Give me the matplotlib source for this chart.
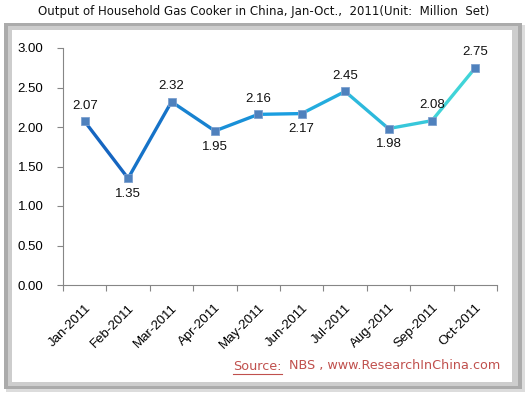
import matplotlib
matplotlib.use("Agg")
import matplotlib.pyplot as plt
import numpy as np
from matplotlib.patches import Rectangle
from matplotlib.lines import Line2D
from matplotlib.colors import LinearSegmentedColormap

months = ["Jan-2011", "Feb-2011", "Mar-2011", "Apr-2011", "May-2011",
          "Jun-2011", "Jul-2011", "Aug-2011", "Sep-2011", "Oct-2011"]
output = [2.07, 1.35, 2.32, 1.95, 2.16, 2.17, 2.45, 1.98, 2.08, 2.75]
label_above = [True, False, True, False, True, False, True, False, True, True]

TITLE = "Output of Household Gas Cooker in China, Jan-Oct.,  2011(Unit:  Million  Set)"
W, H = 528, 395

plt.rcParams.update({"font.family": ["Liberation Sans", "DejaVu Sans"]})
fig = plt.figure(figsize=(W / 100, H / 100), dpi=100)
fig.patch.set_facecolor("white")

# framed panel with grey bevel / shadow
def frect(x0, y0, x1, y1, color, z):
    fig.add_artist(Rectangle((x0 / W, 1 - y1 / H), (x1 - x0) / W, (y1 - y0) / H,
                             transform=fig.transFigure, facecolor=color,
                             edgecolor="none", zorder=z))

frect(6, 25, 525, 392, "#dcdcdc", 0)
frect(4, 23, 522, 389, "#ababab", 0.1)
frect(8, 26, 518, 386, "#cdcdcd", 0.2)
frect(12, 30, 512, 382, "white", 0.3)

fig.text(0.5, 1 - 12 / H, TITLE, ha="center", va="center", fontsize=8.5,
         family="DejaVu Sans", color="#111111")

ax = fig.add_axes([63 / W, 1 - 285 / H, 434 / W, 237 / H])
ax.set_facecolor("none")
ax.set_zorder(2)
n = len(output)
x = np.arange(n)
ax.set_xlim(-0.5, n - 0.5)
ax.set_ylim(0, 3.0)

for sp in ["top", "right"]:
    ax.spines[sp].set_visible(False)
for sp in ["left", "bottom"]:
    ax.spines[sp].set_color("#868686")
    ax.spines[sp].set_linewidth(0.8)

ax.set_yticks(np.arange(0, 3.01, 0.5))
ax.set_yticklabels([f"{v:.2f}" for v in np.arange(0, 3.01, 0.5)], fontsize=9.5)
ax.tick_params(axis="y", length=4, width=0.8, color="#868686", pad=10)

# category boundaries as ticks, labels at centres
ax.set_xticks(np.arange(-0.5, n, 1.0))
ax.set_xticklabels([])
ax.tick_params(axis="x", which="major", length=4, width=0.8, color="#868686")
ax.set_xticks(x, minor=True)
ax.set_xticklabels(months, minor=True, rotation=45, ha="right",
                   rotation_mode="anchor", fontsize=9.5)
ax.tick_params(axis="x", which="minor", length=0, pad=12)

# gradient line: dark blue -> sky blue -> cyan
cmap = LinearSegmentedColormap.from_list("g", ["#1565c0", "#1a9ee0", "#40d4d8"])
for i in range(n - 1):
    ax.plot(x[i:i + 2], output[i:i + 2], color=cmap(i / (n - 2)), lw=2.4,
            solid_capstyle="round", zorder=3)
ax.plot(x, output, ls="none", marker="s", ms=6, mfc="#4f81bd",
        mec="#7da0cf", mew=0.6, zorder=4)

for xi, v, up in zip(x, output, label_above):
    ax.annotate(f"{v:.2f}", (xi, v), xytext=(0, 7 if up else -7),
                textcoords="offset points", ha="center",
                va="bottom" if up else "top", fontsize=9.5, color="#111111")

# source note
red = "#c0504d"
src = fig.text(233 / W, 1 - 366 / H, "Source:", fontsize=9.2, color=red,
               family="DejaVu Sans", va="center", ha="left")
fig.text(500 / W, 1 - 366 / H, "NBS , www.ResearchInChina.com", fontsize=9.2,
         color=red, family="DejaVu Sans", va="center", ha="right")
r = fig.canvas.get_renderer()
bb = src.get_window_extent(r)
yl = (bb.y0 - 1) / fig.bbox.height
fig.add_artist(Line2D([bb.x0 / fig.bbox.width, bb.x1 / fig.bbox.width], [yl, yl],
                      transform=fig.transFigure, color=red, lw=0.8))

fig.savefig("out.png", dpi=100, facecolor="white")
